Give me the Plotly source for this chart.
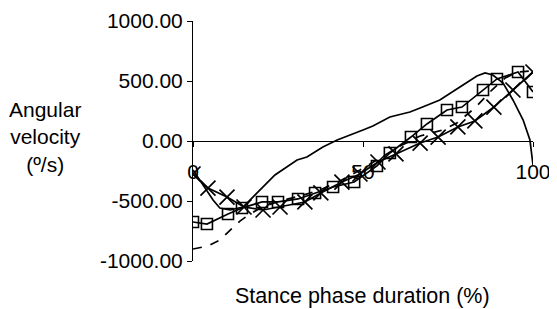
import plotly.graph_objects as go

# Solid line, no markers
line_x = [0, 3.5, 5.9, 7.9, 10.9, 14.7, 16.8, 24.1, 30.6, 33.5, 38.2, 42.4, 50, 52.9, 57.9, 63.8, 66.8, 72.6, 78.5, 83.5, 85.9, 88.2, 91.2, 94.1, 97.1, 99.1, 100]
line_y = [-242, -392, -492, -558, -575, -550, -492, -283, -158, -133, -50, 8, 92, 125, 200, 242, 275, 342, 450, 542, 567, 550, 483, 342, 175, 8, -200]

# Dashed line, no markers
dash_x = [0, 4.4, 7.9, 10.9, 13.8, 16.8, 20.3, 25.6, 31.5, 37.4, 43.2, 49.1, 55, 60.9, 66.8, 73.5, 77.6, 82.9, 87.9, 91.8, 95.6, 100]
dash_y = [-900, -875, -825, -742, -667, -608, -550, -500, -458, -408, -333, -242, -142, -42, 42, 92, 150, 275, 425, 525, 575, 585]

# Squares series
sq_x = [0, 4.1, 10.3, 14.4, 20.3, 25, 30.9, 35.9, 41.2, 47.4, 54.1, 57.9, 64.1, 68.8, 74.7, 79.1, 85.3, 89.4, 95.6, 100]
sq_y = [-675, -692, -608, -558, -508, -508, -483, -433, -383, -342, -208, -100, 33, 142, 258, 283, 425, 517, 575, 408]

# Crosses series
x_x = [0, 4.4, 10, 15, 20.6, 25.6, 32.9, 37.6, 43.8, 49.1, 54.4, 59.7, 66.8, 72.1, 77.9, 82.9, 88.5, 94.1, 100]
x_y = [-275, -392, -467, -550, -575, -550, -508, -433, -342, -275, -175, -108, -17, 33, 117, 167, 283, 425, 575]

y_ticks = [-1000, -500, 0, 500, 1000]
x_ticks = [0, 50, 100]

FONT = "Liberation Sans, Arial, sans-serif"

# page body has an 8px default margin: size the figure to fit the window
OFF = 8
W, H = 557 - OFF, 309 - OFF
L, T = 193 - OFF, 21 - OFF
R = W - (533 - OFF)
B = H - (261 - OFF)

fig = go.Figure()
fig.add_trace(go.Scatter(x=dash_x, y=dash_y, mode="lines",
                         line=dict(color="black", width=1.7, dash="dash")))
fig.add_trace(go.Scatter(x=line_x, y=line_y, mode="lines",
                         line=dict(color="black", width=1.7)))
fig.add_trace(go.Scatter(x=sq_x, y=sq_y, mode="lines+markers",
                         line=dict(color="black", width=1.7),
                         marker=dict(symbol="square-open", size=11, color="black",
                                     line=dict(color="black", width=1.6))))
fig.add_trace(go.Scatter(x=x_x, y=x_y, mode="lines+markers",
                         line=dict(color="black", width=1.7),
                         marker=dict(symbol="x-thin-open", size=15, color="black",
                                     line=dict(color="black", width=1.7))))

fig.update_layout(
    width=W, height=H,
    margin=dict(l=L, r=R, t=T, b=B, autoexpand=False),
    paper_bgcolor="white", plot_bgcolor="white",
    showlegend=False,
    font=dict(family=FONT, size=21, color="black"),
    xaxis=dict(range=[0, 100], anchor="free", position=0.5,
               tickvals=x_ticks, ticktext=[str(v) for v in x_ticks],
               showline=True, linecolor="black", linewidth=1,
               ticks="outside", ticklen=5, tickcolor="black",
               showgrid=False, zeroline=False, ticklabelstandoff=7,
               tickfont=dict(family=FONT, size=21)),
    yaxis=dict(range=[-1000, 1000], tickvals=y_ticks,
               ticktext=[f"{v:.2f}" for v in y_ticks],
               showline=True, linecolor="black", linewidth=1,
               ticks="outside", ticklen=5, tickcolor="black",
               showgrid=False, zeroline=False,
               tickfont=dict(family=FONT, size=21)),
)

pw, ph = W - L - R, H - T - B


def paper(px, py):
    return (px - OFF - L) / pw, 1 - (py - OFF - T) / ph


ax, ay = paper(45, 137)
fig.add_annotation(text="Angular<br>velocity<br>(º/s)", x=ax, y=ay, xref="paper", yref="paper",
                   xanchor="center", yanchor="middle",
                   showarrow=False, font=dict(family=FONT, size=21))
bx, by = paper(362, 296)
fig.add_annotation(text="Stance phase duration (%)", x=bx, y=by, xref="paper", yref="paper",
                   xanchor="center", yanchor="middle",
                   showarrow=False, font=dict(family=FONT, size=21.5))

fig.write_html("out.html")
